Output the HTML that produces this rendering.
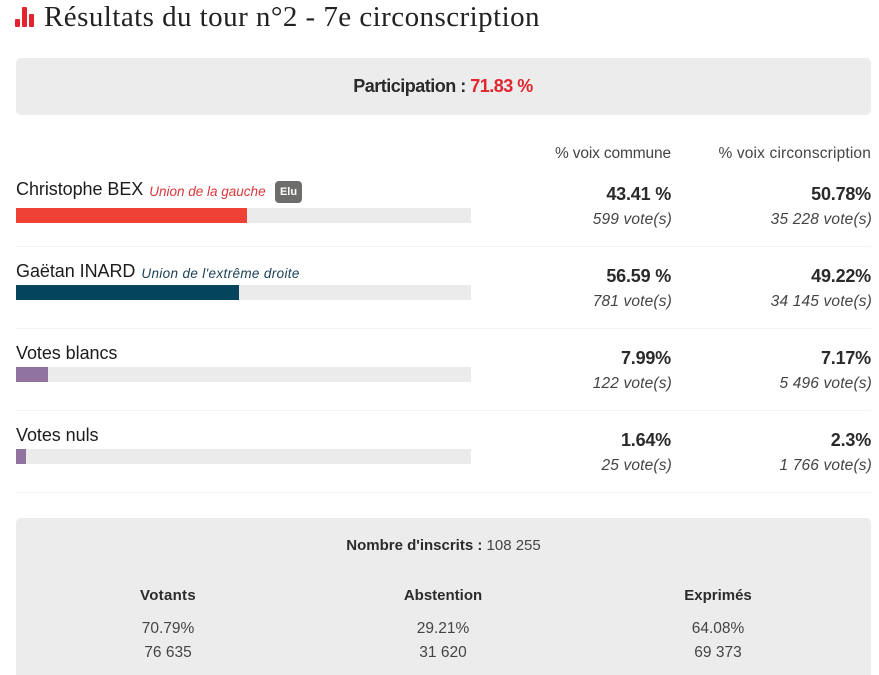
<!DOCTYPE html>
<html lang="fr">
<head>
<meta charset="utf-8">
<title>Résultats du tour n°2</title>
<style>
html,body{margin:0;padding:0;background:#fff;}
#page{position:relative;width:879px;height:675px;overflow:hidden;background:#fff;color:#222;font-family:"Liberation Sans",sans-serif;}
.t{position:absolute;white-space:nowrap;line-height:20px;height:20px;}
.r{text-align:right;}
.c{text-align:center;}
.panel{position:absolute;background:#ececec;}
.name{font-size:18px;letter-spacing:-.06px;color:#1c1c1c;}
.party{font-size:13.5px;font-style:italic;position:relative;top:1px;}
.hd{font-size:15.5px;color:#444;}
.pct{font-size:18px;font-weight:bold;letter-spacing:-.2px;color:#2a2a2a;}
.vote{font-size:15.5px;font-style:italic;letter-spacing:.16px;color:#444;}
.lab{font-size:15px;font-weight:bold;color:#2b2b2b;}
.val{font-size:15.5px;color:#444;}
</style>
</head>
<body>
<div id="page">
  <svg style="position:absolute;left:15px;top:7px" width="20" height="21">
    <rect x="0" y="12" width="5" height="8" rx="1" fill="#e3232f"/>
    <rect x="7" y="0" width="5" height="20" rx="1" fill="#e3232f"/>
    <rect x="14" y="7" width="5" height="13" rx="1" fill="#e3232f"/>
  </svg>
  <div class="t" style="left:44px;top:1px;height:32px;line-height:32px;font-family:'Liberation Serif',serif;font-size:29px;letter-spacing:.45px;color:#222;">Résultats du tour n°2 - 7e circonscription</div>

  <div class="panel" style="left:16px;top:58px;width:855px;height:57px;border-radius:5px;"></div>
  <div class="t c" style="left:16px;top:76px;width:854px;font-size:18px;font-weight:bold;letter-spacing:-.5px;color:#2a2a2a;">Participation : <span style="color:#e0262f;font-weight:bold;">71.83 %</span></div>

  <div class="t r hd" style="right:208px;top:144px;letter-spacing:-.14px;">% voix commune</div>
  <div class="t r hd" style="right:8px;top:144px;letter-spacing:.16px;">% voix circonscription</div>

  <div id="rows"></div>

  <div class="panel" style="left:16px;top:518px;width:855px;height:157px;border-radius:5px 5px 0 0;"></div>
  <div class="t c lab" style="left:16px;top:536px;width:855px;">Nombre d'inscrits : <span style="font-weight:normal;color:#444;">108 255</span></div>

  <div class="t c lab" style="left:68px;top:586px;width:200px;letter-spacing:.3px;">Votants</div>
  <div class="t c val" style="left:68px;top:619px;width:200px;">70.79%</div>
  <div class="t c val" style="left:68px;top:643px;width:200px;">76 635</div>

  <div class="t c lab" style="left:343px;top:586px;width:200px;">Abstention</div>
  <div class="t c val" style="left:343px;top:619px;width:200px;">29.21%</div>
  <div class="t c val" style="left:343px;top:643px;width:200px;">31 620</div>

  <div class="t c lab" style="left:618px;top:586px;width:200px;">Exprimés</div>
  <div class="t c val" style="left:618px;top:619px;width:200px;">64.08%</div>
  <div class="t c val" style="left:618px;top:643px;width:200px;">69 373</div>
</div>
<script>
var categories = ["Christophe BEX", "Gaëtan INARD", "Votes blancs", "Votes nuls"];
var parties = ["Union de la gauche", "Union de l'extrême droite", "", ""];
var circoPercent = [50.78, 49.22, 7.17, 2.3];
var communeLabels = ["43.41 %", "56.59 %", "7.99%", "1.64%"];
var circoLabels = ["50.78%", "49.22%", "7.17%", "2.3%"];
var communeVotes = ["599 vote(s)", "781 vote(s)", "122 vote(s)", "25 vote(s)"];
var circoVotes = ["35 228 vote(s)", "34 145 vote(s)", "5 496 vote(s)", "1 766 vote(s)"];
var barColors = ["#ef4135", "#04445c", "#91739f", "#91739f"];
var partyColors = ["#d8383a", "#1d4257", "#222", "#222"];
var elected = ["Elu", "", "", ""];

var trackLeft = 16, trackWidth = 455, barHeight = 15;
function xScale(p) { return Math.floor(p / 100 * trackWidth); }
function rowTop(i) { return 179 + 82 * i; }
function barTop(i) { return rowTop(i) + (i === 0 ? 29 : 24); }

var rows = document.getElementById('rows');
function box(cls, css, text) {
  var el = document.createElement('div');
  el.className = cls;
  el.style.cssText = css;
  if (text) el.textContent = text;
  rows.appendChild(el);
  return el;
}
categories.forEach(function (name, i) {
  var top = rowTop(i);
  var nameEl = box('t name', 'left:16px;top:' + top + 'px;', name);
  
  
  if (parties[i]) {
    var partyEl = document.createElement('span');
    partyEl.className = 'party';
    partyEl.style.cssText = 'margin-left:6px;color:' + partyColors[i] + ';letter-spacing:' + (i === 1 ? '.35px' : '0') + ';';
    partyEl.textContent = parties[i];
    
    
    nameEl.appendChild(partyEl);
  }
  if (elected[i]) {
    var badge = box('', 'position:absolute;left:275px;top:' + (top + 2) + 'px;width:27px;height:22px;line-height:22px;border-radius:4px;background:#6d6d6b;color:#fff;font-size:11px;font-weight:bold;text-align:center;', elected[i]);
    
    
  }
  var track = box('', 'position:absolute;left:' + trackLeft + 'px;top:' + barTop(i) + 'px;width:' + trackWidth + 'px;height:' + barHeight + 'px;background:#ebebeb;');
  
  
  var bar = box('', 'position:absolute;left:' + trackLeft + 'px;top:' + barTop(i) + 'px;width:' + xScale(circoPercent[i]) + 'px;height:' + barHeight + 'px;background:' + barColors[i] + ';');
  
  
  var p1 = box('t r pct', 'right:208px;top:' + (top + 5) + 'px;', communeLabels[i]);
  
  
  var p2 = box('t r pct', 'right:8px;top:' + (top + 5) + 'px;', circoLabels[i]);
  
  
  var v1 = box('t r vote', 'right:207px;top:' + (top + 31) + 'px;', communeVotes[i]);
  
  
  var v2 = box('t r vote', 'right:7px;top:' + (top + 31) + 'px;', circoVotes[i]);
  
  
  var sep = box('', 'position:absolute;left:16px;top:' + (top + 67) + 'px;width:855px;height:1px;background:#f4f4f4;');
  
  
});
</script>
</body>
</html>
